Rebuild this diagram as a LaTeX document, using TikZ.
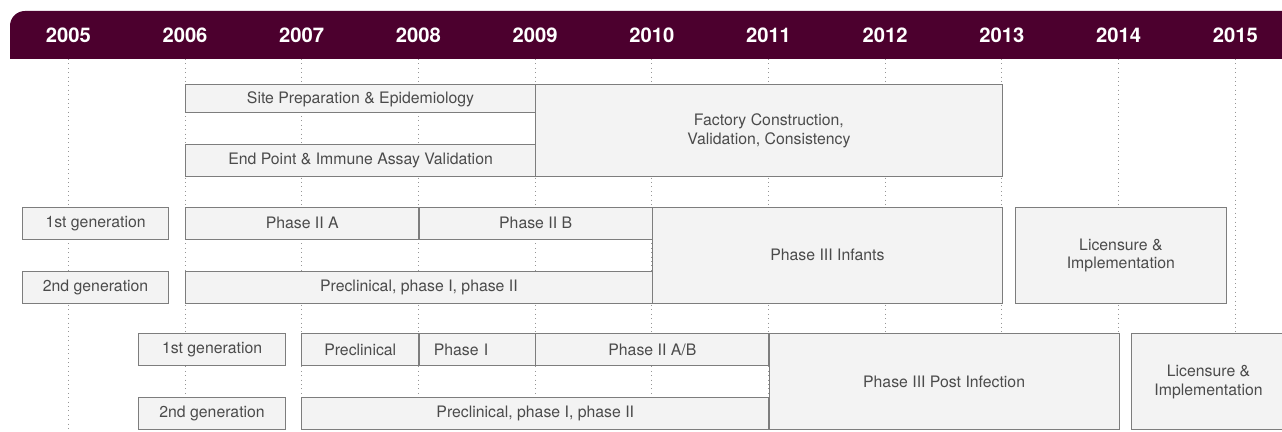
\documentclass[tikz,border=0pt]{standalone}
\usepackage{fontspec}
\setmainfont{TeX Gyre Heros}
\definecolor{barmaroon}{RGB}{76,0,46}
\definecolor{boxfill}{RGB}{243,243,243}
\definecolor{boxline}{RGB}{125,125,125}
\definecolor{boxtext}{RGB}{75,75,75}
\definecolor{guidegray}{RGB}{150,150,150}

\begin{document}
\begin{tikzpicture}[x=0.02cm,y=-0.02cm,every node/.style={font=\fontsize{9}{10.4}\selectfont},
  yr/.style={text=white,font=\fontsize{11.5}{13}\selectfont\bfseries},
  phase/.style={draw=boxline,fill=boxfill,line width=0.65pt,text=boxtext,anchor=north west,inner sep=0pt,align=center},
  guide/.style={guidegray,dotted,line width=0.5pt}]
\useasboundingbox (0,0) rectangle (1282,432);
% header bar and years
\fill[barmaroon] (10,59) [rounded corners=8.5pt] -- (10,11) [sharp corners] -- (1290,11) -- (1290,59) -- cycle;
\node[yr] (y2005) at (68.3,35.5) {2005}; \node[yr] (y2006) at (185,35.5) {2006}; \node[yr] (y2007) at (301.7,35.5) {2007}; \node[yr] (y2008) at (418.4,35.5) {2008};
\node[yr] (y2009) at (535.1,35.5) {2009}; \node[yr] (y2010) at (651.8,35.5) {2010}; \node[yr] (y2011) at (768.5,35.5) {2011}; \node[yr] (y2012) at (885.2,35.5) {2012};
\node[yr] (y2013) at (1001.9,35.5) {2013}; \node[yr] (y2014) at (1118.6,35.5) {2014}; \node[yr] (y2015) at (1235.3,35.5) {2015};
% year guides
\draw[guide] (68.3,59)--(68.3,432); \draw[guide] (185,59)--(185,432); \draw[guide] (301.7,59)--(301.7,432); \draw[guide] (418.4,59)--(418.4,432);
\draw[guide] (535.1,59)--(535.1,432); \draw[guide] (651.8,59)--(651.8,432); \draw[guide] (768.5,59)--(768.5,432); \draw[guide] (885.2,59)--(885.2,432);
\draw[guide] (1001.9,59)--(1001.9,432); \draw[guide] (1118.6,59)--(1118.6,432); \draw[guide] (1235.3,59)--(1235.3,432);
% site and factory
\node[phase,minimum width=7cm,minimum height=0.56cm] (site) at (185,84.3) {Site Preparation \& Epidemiology};
\node[phase,minimum width=7cm,minimum height=0.634cm] (endpt) at (185,144.3) {End Point \& Immune Assay Validation};
\node[phase,minimum width=9.332cm,minimum height=1.834cm] (factory) at (535.1,84.3) {Factory Construction,\\Validation, Consistency};
% infants
\node[phase,minimum width=2.92cm,minimum height=0.646cm] (genA1) at (22,206.7) {1st generation};
\node[phase,minimum width=2.92cm,minimum height=0.646cm] (genA2) at (22,270.7) {2nd generation};
\node[phase,minimum width=4.668cm,minimum height=0.64cm] (phIIa) at (185,206.7) {Phase II A};
\node[phase,minimum width=4.668cm,minimum height=0.64cm] (phIIb) at (418.4,206.7) {Phase II B};
\node[phase,minimum width=9.336cm,minimum height=0.64cm] (preA) at (185,270.7) {Preclinical, phase I, phase II};
\node[phase,minimum width=7.002cm,minimum height=1.92cm] (infants) at (651.8,206.7) {Phase III Infants};
\node[phase,minimum width=4.214cm,minimum height=1.92cm] (licA) at (1015,206.7) {Licensure \&\\Implementation};
% post infection
\node[phase,minimum width=2.952cm,minimum height=0.634cm] (genB1) at (137.7,333.3) {1st generation};
\node[phase,minimum width=2.952cm,minimum height=0.634cm] (genB2) at (137.7,397.3) {2nd generation};
\node[phase,minimum width=2.348cm,minimum height=0.634cm] (preB) at (301,333.3) {Preclinical};
\node[phase,minimum width=2.334cm,minimum height=0.634cm,text width=1.74cm,align=left] (phI) at (418.4,333.3) {Phase I};
\node[phase,minimum width=4.668cm,minimum height=0.634cm] (phIIab) at (535.1,333.3) {Phase II A/B};
\node[phase,minimum width=9.35cm,minimum height=0.634cm] (preC) at (301,397.3) {Preclinical, phase I, phase II};
\node[phase,minimum width=7.002cm,minimum height=1.92cm] (postinf) at (768.5,333.3) {Phase III Post Infection};
\node[phase,minimum width=3.08cm,minimum height=1.92cm] (licB) at (1131,333.3) {Licensure \&\\Implementation};
\end{tikzpicture}
\end{document}
